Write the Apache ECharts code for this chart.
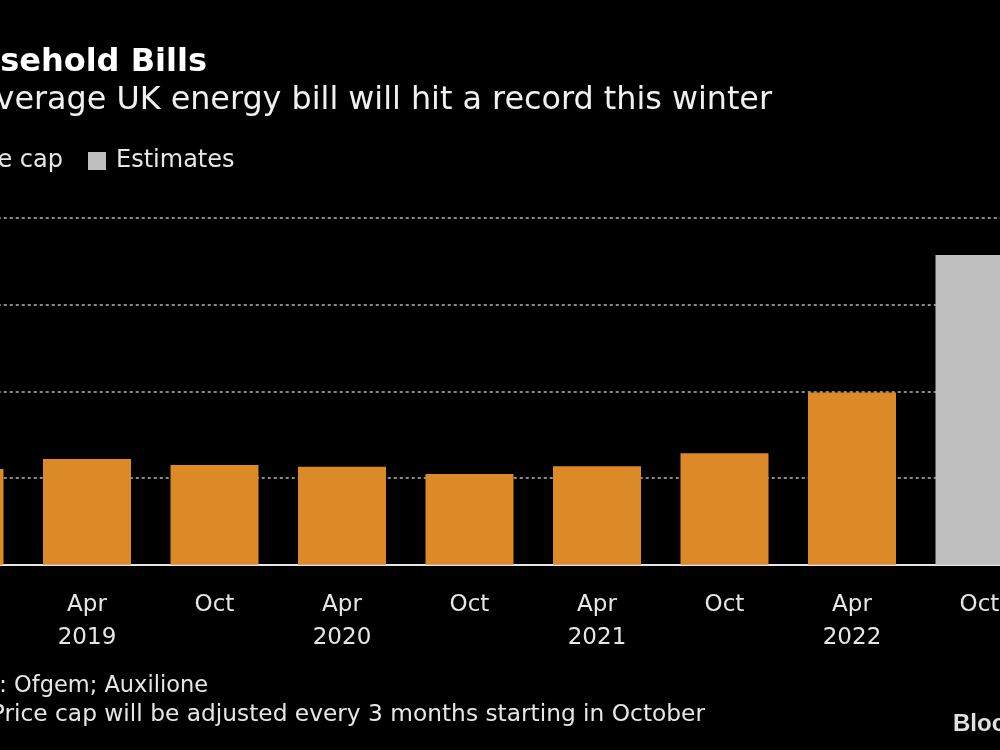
<!DOCTYPE html>
<html><head><meta charset="utf-8">
<script src="https://cdn.jsdelivr.net/npm/echarts@6/dist/echarts.min.js"></script>
<style>html,body{margin:0;padding:0;background:#000;}#c{width:1000px;height:750px;}</style>
</head><body><div id="c"></div>
<script>
const categories = ['Oct\n2018','Apr\n2019','Oct','Apr\n2020','Oct','Apr\n2021','Oct','Apr\n2022','Oct'];
const priceCap = [1104, 1219, 1150, 1130, 1046, 1135, 1285, 1988, null];
const estimates = [null, null, null, null, null, null, null, null, 3572];
const yTicks = [0, 1000, 2000, 3000, 4000];

const FONT = 'DejaVu Sans';
const chart = echarts.init(document.getElementById('c'), null, {renderer:'canvas'});
chart.setOption({
  backgroundColor: '#000',
  animation: false,
  textStyle: {fontFamily: FONT},
  grid: {left: -104.25, right: -43.25, top: 218, bottom: 185.3, containLabel: false, outerBoundsMode: 'none'},
  legend: [
    {data: ['Price cap'], right: 937, top: 149, padding: 0, itemWidth: 18, itemHeight: 18, icon: 'rect',
     textStyle: {color: '#e6e6e6', fontSize: 24, fontFamily: FONT, padding: [0, 0, 0, 5]}},
    {data: ['Estimates'], left: 88, top: 149, padding: 0, itemWidth: 18, itemHeight: 18, icon: 'rect',
     textStyle: {color: '#e6e6e6', fontSize: 24, fontFamily: FONT, padding: [0, 0, 0, 5]}}
  ],
  xAxis: {
    type: 'category', data: categories,
    axisLine: {lineStyle: {color: '#e6e6e6', width: 2}},
    axisTick: {alignWithLabel: true, length: 10, lineStyle: {color: '#e6e6e6', width: 2}},
    axisLabel: {color: '#e6e6e6', fontSize: 23, lineHeight: 33, margin: 24, fontFamily: FONT}
  },
  yAxis: {
    type: 'value', min: yTicks[0], max: yTicks[yTicks.length-1], interval: 1000,
    axisLabel: {show: false}, axisLine: {show: false}, axisTick: {show: false},
    splitLine: {lineStyle: {color: '#8a8a8a', type: [3, 3], width: 2}}
  },
  series: [
    {name: 'Price cap', type: 'bar', data: priceCap, barWidth: 88, barGap: '-100%', itemStyle: {color: '#dc8a28'}},
    {name: 'Estimates', type: 'bar', data: estimates, barWidth: 88, barGap: '-100%', itemStyle: {color: '#bfbfbf'}}
  ],
  graphic: [
    {type: 'text', x: 207, y: 47, style: {text: 'Household Bills', align: 'right', fill: '#ffffff', font: 'bold 32px ' + FONT}},
    {type: 'text', x: 772, y: 85, style: {text: 'The average UK energy bill will hit a record this winter', align: 'right', fill: '#f0f0f0', font: '31.8px ' + FONT}},
    {type: 'text', x: 208, y: 675, style: {text: 'Source: Ofgem; Auxilione', align: 'right', fill: '#e6e6e6', font: '22.5px ' + FONT}},
    {type: 'text', x: 705, y: 703, style: {text: 'Note: Price cap will be adjusted every 3 months starting in October', align: 'right', fill: '#e6e6e6', font: '23.3px ' + FONT}},
    {type: 'text', x: 953, y: 712, style: {text: 'Bloomberg', align: 'left', fill: '#e0e0e0', font: 'bold 24px Arial'}}
  ]
});
</script></body></html>
